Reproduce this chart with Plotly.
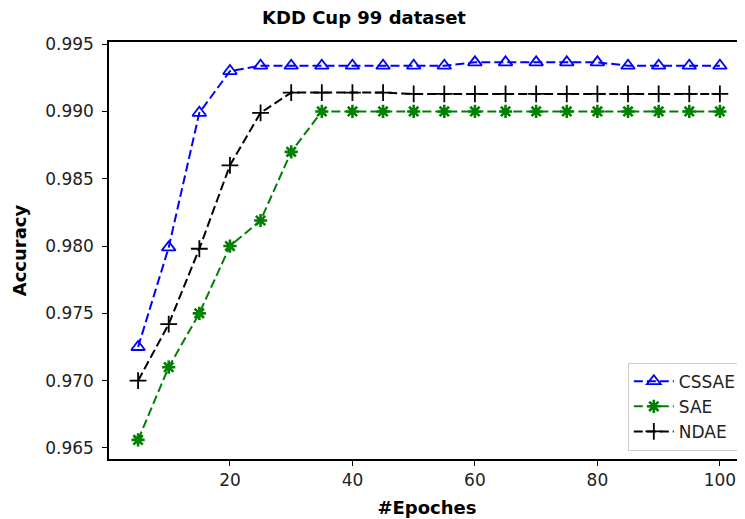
import plotly.graph_objects as go

epochs = [5, 10, 15, 20, 25, 30, 35, 40, 45, 50, 55, 60, 65, 70, 75, 80, 85, 90, 95, 100]
cssae = [0.9725, 0.9799, 0.9899, 0.9930, 0.9934, 0.9934, 0.9934, 0.9934, 0.9934, 0.9934,
         0.9934, 0.99365, 0.99365, 0.99365, 0.99365, 0.99365, 0.9934, 0.9934, 0.9934, 0.9934]
sae = [0.9656, 0.9710, 0.9750, 0.9800, 0.9819, 0.9870, 0.9900, 0.9900, 0.9900, 0.9900,
       0.9900, 0.9900, 0.9900, 0.9900, 0.9900, 0.9900, 0.9900, 0.9900, 0.9900, 0.9900]
ndae = [0.9700, 0.9742, 0.9798, 0.9860, 0.9899, 0.9914, 0.9914, 0.9914, 0.9914, 0.9913,
        0.9913, 0.9913, 0.9913, 0.9913, 0.9913, 0.9913, 0.9913, 0.9913, 0.9913, 0.9913]
y_ticks = [0.965, 0.970, 0.975, 0.980, 0.985, 0.990, 0.995]
x_ticks = [20, 40, 60, 80, 100]

FONT = "DejaVu Sans"
DASH = "9px,4px"

fig = go.Figure()
fig.add_trace(go.Scatter(
    x=epochs, y=cssae, name="CSSAE", mode="lines+markers",
    line=dict(color="#0000ff", width=2, dash=DASH),
    marker=dict(symbol="triangle-up-open", size=12, color="#0000ff", line=dict(width=1.8, color="#0000ff")),
))
fig.add_trace(go.Scatter(
    x=epochs, y=sae, name="SAE", mode="lines+markers",
    line=dict(color="#008000", width=2, dash=DASH),
    marker=dict(symbol="asterisk-open", size=11, color="#008000", line=dict(width=2.6, color="#008000")),
))
fig.add_trace(go.Scatter(
    x=epochs, y=ndae, name="NDAE", mode="lines+markers",
    line=dict(color="#000000", width=2, dash=DASH),
    marker=dict(symbol="cross-thin-open", size=12, color="#000000", line=dict(width=1.8, color="#000000")),
))

# page body adds an 8px margin; figure placed so the axes land where the reference has them
fig.update_layout(
    width=737, height=511,
    margin=dict(l=101, r=0, t=34, b=60),
    paper_bgcolor="white", plot_bgcolor="white",
    font=dict(family=FONT, size=17, color="#222222"),
    title=dict(text="<b>KDD Cup 99 dataset</b>", x=(364 - 8) / 737, xref="container", xanchor="center",
               y=1, yref="container", yanchor="top", pad=dict(t=3),
               font=dict(family=FONT, size=18, color="black")),
    showlegend=True,
    legend=dict(x=0.995, xanchor="right", y=0.02, yanchor="bottom",
                bgcolor="white", bordercolor="#cccccc", borderwidth=1,
                font=dict(family=FONT, size=17, color="#222222"),
                itemwidth=40, tracegroupgap=2),
)
fig.update_xaxes(
    range=[0.25, 104.1], tickvals=x_ticks, ticktext=[str(v) for v in x_ticks],
    showgrid=False, zeroline=False,
    showline=True, linecolor="black", linewidth=1.5, mirror=True,
    ticks="outside", ticklen=5, tickcolor="black", tickwidth=1.3,
    tickfont=dict(family=FONT, size=17, color="#222222"),
    title=dict(text="<b>#Epoches</b>", standoff=12, font=dict(family=FONT, size=18, color="black")),
)
fig.update_yaxes(
    range=[0.96418, 0.99516], tickvals=y_ticks, ticktext=[f"{v:.3f}" for v in y_ticks],
    showgrid=False, zeroline=False,
    showline=True, linecolor="black", linewidth=1.5, mirror=False,
    ticks="outside", ticklen=5, tickcolor="black", tickwidth=1.3, ticklabelstandoff=5,
    tickfont=dict(family=FONT, size=17, color="#222222"),
    title=dict(text="<b>Accuracy</b>", standoff=14, font=dict(family=FONT, size=18, color="black")),
)

fig.write_html("out.html")
